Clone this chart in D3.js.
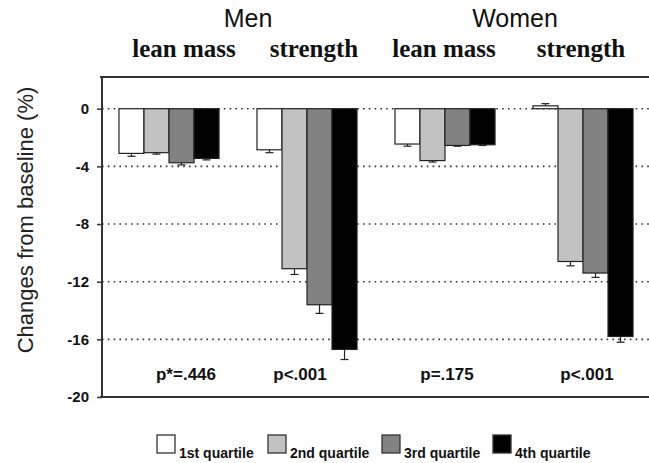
<!DOCTYPE html>
<html><head><meta charset="utf-8">
<script src="https://cdn.jsdelivr.net/npm/d3@7"></script>
<style>body{margin:0;background:#fff}</style>
</head><body>
<svg id="c" width="649" height="463"></svg>
<script>
const groups = ["Men lean mass", "Men strength", "Women lean mass", "Women strength"];
const quartiles = ["1st quartile", "2nd quartile", "3rd quartile", "4th quartile"];
const menLean = [-3.1, -3.05, -3.75, -3.45];
const menStrength = [-2.85, -11.1, -13.6, -16.7];
const womenLean = [-2.45, -3.6, -2.55, -2.5];
const womenStrength = [0.2, -10.6, -11.4, -15.8];
const menLeanErr = [0.2, 0.1, 0.15, 0.1];
const menStrengthErr = [0.2, 0.4, 0.6, 0.7];
const womenLeanErr = [0.15, 0.1, 0.05, 0.05];
const womenStrengthErr = [0.15, 0.3, 0.3, 0.4];
const pValues = ["p*=.446", "p<.001", "p=.175", "p<.001"];
const yTicks = [0, -4, -8, -12, -16, -20];
const colors = ["#ffffff", "#c2c2c2", "#828282", "#000000"];

const values = [menLean, menStrength, womenLean, womenStrength];
const errs = [menLeanErr, menStrengthErr, womenLeanErr, womenStrengthErr];

const svg = d3.select("#c");
const mLeft = 102, mRight = 649, mTop = 77, mBottom = 397;
const sans = "Arial, 'Liberation Sans', sans-serif";
const serif = "'Times New Roman', 'Liberation Serif', serif";

const y = d3.scaleLinear().domain([-20, 2.2]).range([mBottom, mTop]);
const x0 = d3.scaleBand().domain(groups).range([100, 652]).paddingInner(0.275).paddingOuter(0.1375);
const x1 = d3.scaleBand().domain(quartiles).range([0, x0.bandwidth()]);

// gridlines (dotted)
svg.append("g").selectAll("line").data(yTicks.filter(d => d > -20)).join("line")
  .attr("x1", mLeft).attr("x2", mRight)
  .attr("y1", d => y(d)).attr("y2", d => y(d))
  .attr("stroke", "#333").attr("stroke-width", 1.6)
  .attr("stroke-dasharray", "1.6,4.2");

// bars
const data = [];
groups.forEach((g, i) => quartiles.forEach((q, j) => data.push({g, q, j, v: values[i][j], e: errs[i][j]})));
svg.append("g").selectAll("rect").data(data).join("rect")
  .attr("x", d => x0(d.g) + x1(d.q))
  .attr("width", x1.bandwidth())
  .attr("y", d => y(Math.max(0, d.v)))
  .attr("height", d => Math.abs(y(d.v) - y(0)))
  .attr("fill", d => colors[d.j])
  .attr("stroke", "#222").attr("stroke-width", 1.2);

// error bars
const eg = svg.append("g").attr("stroke", "#222").attr("stroke-width", 1.2);
data.forEach(d => {
  const cx = x0(d.g) + x1(d.q) + x1.bandwidth() / 2;
  const end = d.v >= 0 ? d.v + d.e : d.v - d.e;
  eg.append("line").attr("x1", cx).attr("x2", cx).attr("y1", y(d.v)).attr("y2", y(end));
  eg.append("line").attr("x1", cx - 4).attr("x2", cx + 4).attr("y1", y(end)).attr("y2", y(end));
});

// frame lines
svg.append("line").attr("x1", 100).attr("x2", 649).attr("y1", mTop).attr("y2", mTop).attr("stroke", "#333").attr("stroke-width", 2);
svg.append("line").attr("x1", 100).attr("x2", 649).attr("y1", mBottom).attr("y2", mBottom).attr("stroke", "#333").attr("stroke-width", 2);

const yAxis = d3.axisLeft(y).tickValues(yTicks).tickSize(5).tickPadding(8).tickFormat(d => String(d));
const ya = svg.append("g").attr("transform", `translate(${mLeft},0)`).call(yAxis);
ya.select(".domain").attr("d", `M0,${mTop}V${mBottom}`).attr("stroke", "#333").attr("stroke-width", 2);
ya.selectAll(".tick line").attr("stroke", "#333").attr("stroke-width", 1.5);
ya.selectAll(".tick text").attr("font-family", sans).attr("font-weight", "bold").attr("font-size", 15).attr("fill", "#111");

// y title
svg.append("text").attr("transform", "translate(33,220) rotate(-90)")
  .attr("text-anchor", "middle").attr("font-family", sans)
  .attr("font-size", 22).attr("fill", "#222").text("Changes from baseline (%)");

// headers
const sexes = [{t: "Men", x: 248}, {t: "Women", x: 515}];
svg.append("g").selectAll("text").data(sexes).join("text")
  .attr("x", d => d.x).attr("y", 27).attr("text-anchor", "middle")
  .attr("font-family", sans).attr("font-size", 25).attr("fill", "#111")
  .text(d => d.t);
const subLabels = [{t: "lean mass", x: 184}, {t: "strength", x: 314}, {t: "lean mass", x: 444}, {t: "strength", x: 581}];
svg.append("g").selectAll("text").data(subLabels).join("text")
  .attr("x", d => d.x).attr("y", 57).attr("text-anchor", "middle")
  .attr("font-family", serif).attr("font-weight", "bold").attr("font-size", 25).attr("fill", "#111")
  .text(d => d.t);

// p values
const pX = [186, 300, 447, 587];
svg.append("g").selectAll("text").data(pValues).join("text")
  .attr("x", (d, i) => pX[i]).attr("y", 380).attr("text-anchor", "middle")
  .attr("font-family", sans).attr("font-weight", "bold").attr("font-size", 17).attr("fill", "#111")
  .text(d => d);

// legend
const lx = [157, 268, 382, 493];
const lg = svg.append("g");
quartiles.forEach((q, i) => {
  lg.append("rect").attr("x", lx[i]).attr("y", 435).attr("width", 18).attr("height", 18)
    .attr("fill", colors[i]).attr("stroke", "#333").attr("stroke-width", 1.3);
  lg.append("text").attr("x", lx[i] + 22).attr("y", 458)
    .attr("font-family", sans).attr("font-weight", "bold").attr("font-size", 14).attr("fill", "#111")
    .text(q);
});
</script>
</body></html>
